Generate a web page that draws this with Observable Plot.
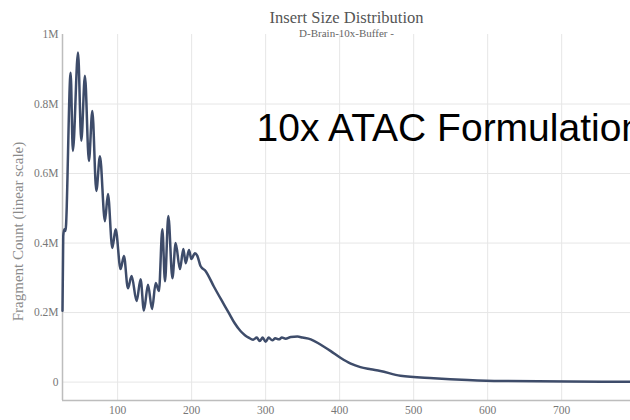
<!DOCTYPE html>
<html>
<head>
<meta charset="utf-8">
<script src="https://cdn.jsdelivr.net/npm/d3@7"></script>
<script src="https://cdn.jsdelivr.net/npm/@observablehq/plot@0.6"></script>
<style>
  html, body { margin: 0; padding: 0; background: #fff; }
  #chart { width: 630px; height: 420px; overflow: hidden; }
</style>
</head>
<body>
<div id="chart"></div>
<script>
// Insert size (bp) and fragment counts for the D-Brain-10x-Buffer library
const insertSizes = [
  25.5, 26.5, 28, 29.5, 36.5, 39.5, 46.5, 50.9, 55.8, 61.2, 65.8, 71.2, 76.1,
  82.8, 86.9, 92.8, 97.3, 104, 108.5, 113.9, 118.9, 125.7, 131, 135.5, 141,
  146.5, 151.4, 155.8, 160.4, 164, 168.5, 174, 178.4, 184.2, 188.8, 192,
  196.4, 199.6, 204.5, 207.7, 212, 219, 230, 240, 250, 258, 266, 272, 277,
  283, 288, 292, 296, 300, 304, 309, 313, 318, 322, 327, 334, 343, 350, 361,
  374, 388, 401, 415, 428, 442, 455, 482, 527, 573, 618, 708, 793
];
const fragmentCounts = [
  205000, 420000, 440000, 435000, 890000, 665000, 948000, 694000, 881000,
  636000, 780000, 550000, 650000, 463000, 541000, 386000, 440000, 325000,
  363000, 270000, 305000, 233000, 296000, 206000, 280000, 210000, 285000,
  262000, 440000, 290000, 478000, 299000, 400000, 325000, 383000, 342000,
  380000, 354000, 371000, 363000, 334000, 319000, 275000, 237000, 200000,
  170000, 147000, 135000, 128000, 122000, 128000, 118000, 128000, 116000,
  128000, 120000, 126000, 123000, 128000, 125000, 130000, 131000, 128000,
  123000, 108000, 89000, 70000, 53000, 43000, 37000, 32000, 18000, 11000,
  6000, 3000, 1500, 1000
];

// Axis ticks
const xTicks = [100, 200, 300, 400, 500, 600, 700];
const yTicks = [0, 200000, 400000, 600000, 800000, 1000000];
const yGrid = [0, 200000, 400000, 600000, 800000];

const title = "Insert Size Distribution";
const subtitle = "D-Brain-10x-Buffer -";
const yLabel = "Fragment Count (linear scale)";
const annotation = "10x ATAC Formulation";

const data = insertSizes.map((s, i) => ({size: s, count: fragmentCounts[i]}));

const xDomain = [25.5, 793];
const yDomain = [-53000, 1000000];

const fmtY = (v) => v === 0 ? "0" : `${+(v / 1e6).toFixed(1)}M`;

const chart = Plot.plot({
  width: 630,
  height: 420,
  marginTop: 34,
  marginBottom: 20,
  marginLeft: 62,
  marginRight: 0,
  style: {fontFamily: "'Liberation Serif', 'DejaVu Serif', serif", fontSize: "11.5px", color: "#777", background: "#fff"},
  x: {domain: xDomain, ticks: xTicks, tickSize: 0, tickPadding: 5, label: null},
  y: {domain: yDomain, ticks: yTicks, tickSize: 0, tickPadding: 4, tickFormat: fmtY, label: null},
  marks: [
    Plot.gridX(xTicks, {stroke: "#e6e6e6", strokeOpacity: 1}),
    Plot.gridY(yGrid, {stroke: "#e6e6e6", strokeOpacity: 1}),
    Plot.ruleX([xDomain[0]], {stroke: "#bdbdbd", strokeWidth: 1.5}),
    Plot.ruleY([yDomain[0]], {stroke: "#bdbdbd", strokeWidth: 1.5}),
    Plot.line(data, {x: "size", y: "count", stroke: "#3e4c6a", strokeWidth: 2.5, curve: "monotone-x"}),
    Plot.text([title], {frameAnchor: "top", dy: -23, fontSize: 16.5, fill: "#555"}),
    Plot.text([subtitle], {frameAnchor: "top", dy: -5, fontSize: 11, fill: "#666"}),
    Plot.text([yLabel], {frameAnchor: "left", textAnchor: "middle", rotate: -90, dx: -44, dy: 14, fontSize: 15, fill: "#8a8a8a"}),
    Plot.text([annotation], {
      frameAnchor: "top-left", dx: 194, dy: 106, textAnchor: "start", lineAnchor: "bottom",
      fontFamily: "'Liberation Sans', Arial, sans-serif", fontSize: 39, fill: "#000"
    })
  ]
});

document.getElementById("chart").append(chart);
</script>
</body>
</html>
